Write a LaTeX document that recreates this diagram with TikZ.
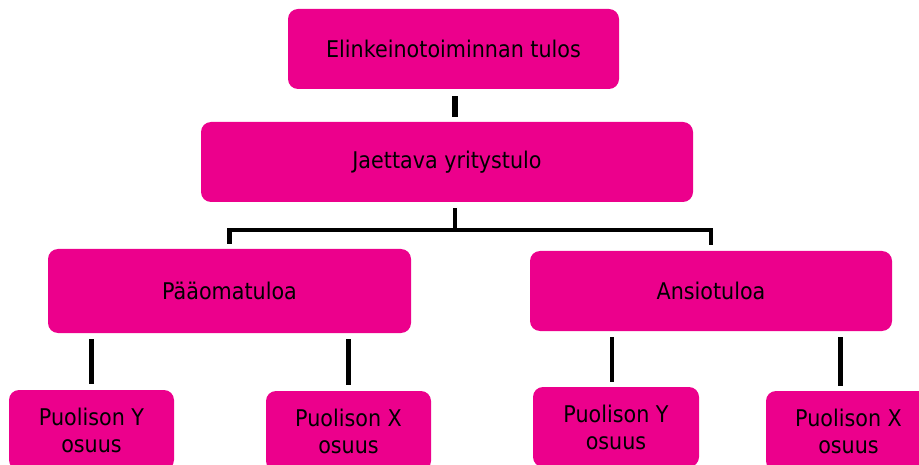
\documentclass[tikz,border=0pt]{standalone}
\usepackage{fontspec}
\setmainfont{DejaVu Sans}[FakeStretch=0.9]
\usetikzlibrary{positioning}

\definecolor{tulopink}{RGB}{236,0,140}
\tikzset{
	tulobox/.style={shape=rectangle, fill=tulopink, rounded corners=10pt,
		inner sep=0pt, align=center, font=\fontsize{23}{27}\selectfont},
	wire/.style={line width=4.5pt},
	thickwire/.style={line width=6pt}
}

\begin{document}
\begin{tikzpicture}[x=1pt, y=-1pt]
	\clip (0,0) rectangle (919,465);

	% Upper boxes:
	\node[tulobox, minimum width=331pt, minimum height=80pt]
	(elinkeino) at (453.5, 49){Elinkeinotoiminnan tulos};
	\node[tulobox, minimum width=492pt, minimum height=80pt]
	(jaettava) at (447, 162){Jaettava yritystulo};

	% Income types
	\node[tulobox, minimum width=363pt, minimum height=84pt]
	(paaoma) at (229.5, 291){Pääomatuloa};
	\node[tulobox, minimum width=362pt, minimum height=80pt]
	(ansio) at (711, 291){Ansiotuloa};

	% Spouse shares (cut off at the lower edge)
	\node[tulobox, minimum width=165pt, minimum height=80pt]
	(paaY) at (91.5, 430){Puolison Y\\osuus};
	\node[tulobox, minimum width=165pt, minimum height=80pt]
	(paaX) at (348.5, 431){Puolison X\\osuus};
	\node[tulobox, minimum width=166pt, minimum height=80pt]
	(ansioY) at (616, 427){Puolison Y\\osuus};
	\node[tulobox, minimum width=165pt, minimum height=80pt]
	(ansioX) at (848.5, 431){Puolison X\\osuus};

	% Wires between the boxes
	\coordinate (haara) at (455, 230);
	\draw[thickwire] ([yshift=-7pt]haara |- elinkeino.south)
	-- ([yshift=5pt]haara |- jaettava.north);
	\draw[wire] ([yshift=-6pt]haara |- jaettava.south) -- (haara);
	\draw[wire] ([yshift=5pt]paaoma.north) |- (haara)
	-| ([yshift=6pt]ansio.north);

	\draw[wire] ([yshift=-6pt]paaY.north |- paaoma.south)
	-- ([yshift=6pt]paaY.north);
	\draw[wire] ([yshift=-6pt]paaX.north |- paaoma.south)
	-- ([yshift=6pt]paaX.north);
	\draw[wire] ([yshift=-6pt, xshift=-4pt]ansioY.north |- ansio.south)
	-- ([yshift=5pt, xshift=-4pt]ansioY.north);
	\draw[wire] ([yshift=-6pt, xshift=-8pt]ansioX.north |- ansio.south)
	-- ([yshift=5pt, xshift=-8pt]ansioX.north);
\end{tikzpicture}
\end{document}
